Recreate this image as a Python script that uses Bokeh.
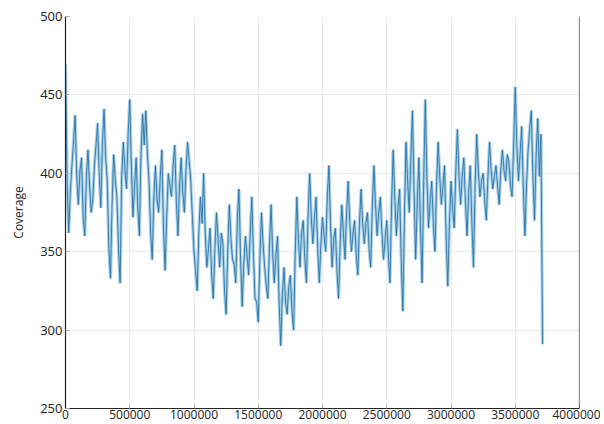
import numpy as np
from bokeh.plotting import figure
from bokeh.models import Range1d, FixedTicker, BasicTickFormatter, Span
from bokeh.embed import file_html
from bokeh.resources import INLINE

coverage = [
    470, 395, 362, 388, 405, 420, 437, 398, 380, 402, 410, 372, 360, 398, 415, 392, 375, 383, 405, 418,
    432, 400, 378, 420, 441, 410, 395, 352, 333, 380, 412, 396, 385, 352, 330, 398, 420, 402, 390, 425,
    447, 405, 372, 392, 410, 378, 360, 412, 438, 418, 440, 412, 395, 362, 345, 385, 405, 383, 375, 398,
    415, 365, 338, 372, 400, 392, 385, 405, 418, 382, 360, 392, 410, 388, 375, 402, 420, 408, 395, 372,
    350, 338, 325, 362, 385, 368, 400, 362, 340, 352, 365, 335, 320, 352, 375, 358, 340, 362, 355, 325,
    310, 350, 380, 358, 345, 342, 330, 372, 390, 345, 315, 342, 360, 348, 335, 362, 385, 348, 320, 318,
    305, 345, 375, 355, 340, 328, 320, 355, 380, 348, 330, 348, 360, 318, 290, 322, 340, 318, 310, 328,
    335, 312, 300, 348,
    385, 358, 340, 362, 370, 345, 330, 372, 400, 372, 355, 372, 385, 352, 330, 355, 372, 360, 350, 385,
    405, 368, 340, 358, 365, 338, 320, 355, 380, 362, 345, 375, 395, 368, 350, 362, 370, 348, 335, 368,
    390, 368, 355, 368, 375, 352, 340, 378, 405, 380, 360, 375, 385, 362, 345, 358,
    370, 348, 330, 380, 415, 385, 360, 378, 390, 345, 312, 372, 420, 395, 375, 410, 440, 388, 345, 382,
    410, 365, 330, 395, 447, 398, 365, 382, 395, 368, 350, 392, 420, 398, 380, 392, 405, 358, 328, 368,
    395, 378, 365, 402, 428, 398, 380, 398, 410, 382, 360, 388, 405, 368, 340, 392, 425, 402, 385, 395,
    400, 382, 370, 398, 420, 402, 390, 398, 405, 392, 380, 402, 415, 402, 395, 412, 408, 392, 385, 418,
    455, 418, 395, 412, 430, 392, 360, 392, 415, 428, 440, 398, 370, 412, 435, 398, 425, 291,
]
bin_size = 12500
positions = list(np.arange(len(coverage)) * bin_size)
x_ticks = [0, 500000, 1000000, 1500000, 2000000, 2500000, 3000000, 3500000, 4000000]
y_ticks = [250, 300, 350, 400, 450, 500]

FONT = "Open Sans"
p = figure(width=600, height=422, output_backend="svg", toolbar_location=None,
           x_range=Range1d(0, 4000000), y_range=Range1d(250, 500),
           min_border_left=65, min_border_top=16, min_border_right=21, min_border_bottom=14)
p.outline_line_color = None
p.background_fill_color = "white"
p.border_fill_color = "white"

p.line(positions, coverage, line_color="#93c6e2", line_width=3.2, line_alpha=0.8)
p.line(positions, coverage, line_color="#2b73a5", line_width=0.9)

for ax in p.xaxis:
    ax.ticker = FixedTicker(ticks=x_ticks)
    ax.formatter = BasicTickFormatter(use_scientific=False)
    ax.major_label_text_font = FONT
    ax.major_label_text_font_size = "12px"
    ax.major_label_text_color = "#222222"
    ax.major_label_standoff = 1
    ax.major_tick_in = 4
    ax.major_tick_out = 0
    ax.major_tick_line_color = "#aaaaaa"
    ax.minor_tick_line_color = None
    ax.axis_line_color = "#222222"
    ax.axis_line_width = 1.2
for ax in p.yaxis:
    ax.ticker = FixedTicker(ticks=y_ticks)
    ax.axis_label = "Coverage"
    ax.axis_label_text_font = FONT
    ax.axis_label_text_font_style = "normal"
    ax.axis_label_text_font_size = "12px"
    ax.axis_label_text_color = "#222222"
    ax.axis_label_standoff = 10
    ax.major_label_text_font = FONT
    ax.major_label_text_font_size = "13px"
    ax.major_label_text_color = "#222222"
    ax.major_label_standoff = 3
    ax.major_tick_in = 4
    ax.major_tick_out = 0
    ax.major_tick_line_color = "#aaaaaa"
    ax.minor_tick_line_color = None
    ax.axis_line_color = "#222222"
    ax.axis_line_width = 1.2

p.add_layout(Span(location=4000000, dimension="height", line_color="#222222", line_width=1.2))

p.xgrid.ticker = FixedTicker(ticks=x_ticks)
p.ygrid.ticker = FixedTicker(ticks=y_ticks)
p.grid.grid_line_color = "#ebebeb"
p.grid.grid_line_width = 1

open("out.html", "w").write(file_html(p, INLINE))
